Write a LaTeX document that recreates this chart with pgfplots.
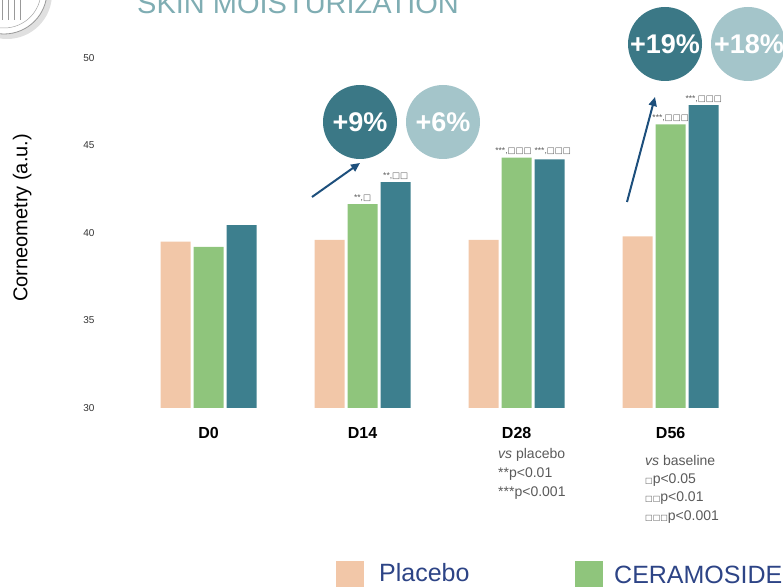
\documentclass[border=0pt]{standalone}
\usepackage{pgfplots}
\pgfplotsset{compat=1.18}
\usepackage{fontspec}
\setmainfont{Liberation Sans}
\newfontfamily\dejavu{DejaVu Sans}
\usetikzlibrary{arrows.meta}
\definecolor{placebo}{HTML}{F2C7A8}
\definecolor{cgreen}{HTML}{8FC57C}
\definecolor{cteal}{HTML}{3D7F8E}
\definecolor{circdark}{HTML}{3B7886}
\definecolor{circlight}{HTML}{A4C5CA}
\definecolor{titlecol}{HTML}{7FADB3}
\definecolor{arrowcol}{HTML}{1D4F7C}
\definecolor{legtext}{HTML}{2D4486}
\definecolor{notegray}{HTML}{5A5A5A}
\newcommand{\sq}{{\dejavu □}}
\begin{document}
\begin{tikzpicture}[x=1pt,y=1pt]
\useasboundingbox (0,0) rectangle (783,586);
\clip (0,0) rectangle (783,586);
% logo
\fill[black!12] (7,592) circle (45);
\filldraw[fill=white,draw=black!40,line width=0.8pt] (4,595) circle (43);
\draw[black!35,line width=0.5pt] (4,595) circle (37);
\foreach \xx in {2,8,14,20}{\draw[black!40,line width=1pt] (\xx,586) -- (\xx,566);}
% title
\node[anchor=base west,inner sep=0,font=\fontsize{29}{29}\selectfont,text=titlecol] at (137,572) {SKIN MOISTURIZATION};
\begin{axis}[
  at={(110pt,178pt)}, anchor=south west,
  scale only axis, width=670pt, height=350pt,
  xmin=-0.64, xmax=3.71, ymin=30, ymax=50,
  ytick={30,35,40,45,50},
  xtick={0,1,2,3}, xticklabels={D0,D14,D28,D56},
  axis line style={draw=none},
  major tick length=0pt,
  /pgf/number format/assume math mode=true,
  yticklabel style={font=\fontsize{10}{10}\selectfont, xshift=-12pt, text=black!80},
  xticklabel style={font=\fontsize{16}{16}\selectfont\bfseries, yshift=-16pt},
  ylabel={Corneometry (a.u.)},
  ylabel style={at={(axis description cs:-0.131,0.543)}, anchor=center, font=\fontsize{20}{20}\selectfont},
  ybar, bar width=30pt,
  clip=false,
]
\addplot[ybar, fill=placebo, draw=none, bar shift=-33pt] coordinates {(0,39.5) (1,39.6) (2,39.6) (3,39.8)};
\addplot[ybar, fill=cgreen, draw=none, bar shift=0pt] coordinates {(0,39.2) (1,41.65) (2,44.3) (3,46.2)};
\addplot[ybar, fill=cteal, draw=none, bar shift=33pt] coordinates {(0,40.45) (1,42.9) (2,44.2) (3,47.3)};
\begin{scope}[every node/.style={font=\fontsize{8.5}{8.5}\selectfont, text=notegray, anchor=south, inner sep=1pt}]
\node at (axis cs:1.0,41.75) {**,\sq};
\node at (axis cs:1.215,43.0) {**,\sq\sq};
\node at (axis cs:1.98,44.4) {***,\sq\sq\sq};
\node at (axis cs:2.235,44.4) {***,\sq\sq\sq};
\node at (axis cs:3.0,46.3) {***,\sq\sq\sq};
\node at (axis cs:3.215,47.4) {***,\sq\sq\sq};
\end{scope}
\end{axis}
% notes
\begin{scope}[every node/.style={font=\fontsize{14}{14}\selectfont, text=notegray, anchor=west, inner sep=0}]
\node at (498,131) {\textit{vs} placebo};
\node at (498,112) {**p<0.01};
\node at (498,93) {***p<0.001};
\node at (645,126) {\textit{vs} baseline};
\node at (645,106) {{\fontsize{8}{8}\selectfont\sq}p<0.05};
\node at (645,88) {{\fontsize{8}{8}\selectfont\sq\sq}p<0.01};
\node at (645,69) {{\fontsize{8}{8}\selectfont\sq\sq\sq}p<0.001};
\end{scope}
% percentage circles
\fill[circdark] (360,464) circle (37);
\fill[circlight] (443,464) circle (37);
\node[text=white,font=\fontsize{27}{27}\selectfont\bfseries] at (360,464) {+9\%};
\node[text=white,font=\fontsize{27}{27}\selectfont\bfseries] at (443,464) {+6\%};
\fill[circdark] (665,542) circle (37);
\fill[circlight] (748,542) circle (37);
\node[text=white,font=\fontsize{27}{27}\selectfont\bfseries] at (665,542) {+19\%};
\node[text=white,font=\fontsize{27}{27}\selectfont\bfseries] at (749,542) {+18\%};
% arrows
\draw[arrowcol, line width=2pt, -{Triangle[length=9pt,width=8pt]}] (312,389) -- (360,423);
\draw[arrowcol, line width=2pt, -{Triangle[length=9pt,width=8pt]}] (627,384) -- (655,489);
% legend
\fill[placebo] (336,25) rectangle (364,-3);
\node[anchor=base west, inner sep=0, text=legtext, font=\fontsize{25}{25}\selectfont] at (379,5) {Placebo};
\fill[cgreen] (575,25) rectangle (603,-3);
\node[anchor=base west, inner sep=0, text=legtext, font=\fontsize{25}{25}\selectfont] at (614,3) {CERAMOSIDE};
\end{tikzpicture}
\end{document}
